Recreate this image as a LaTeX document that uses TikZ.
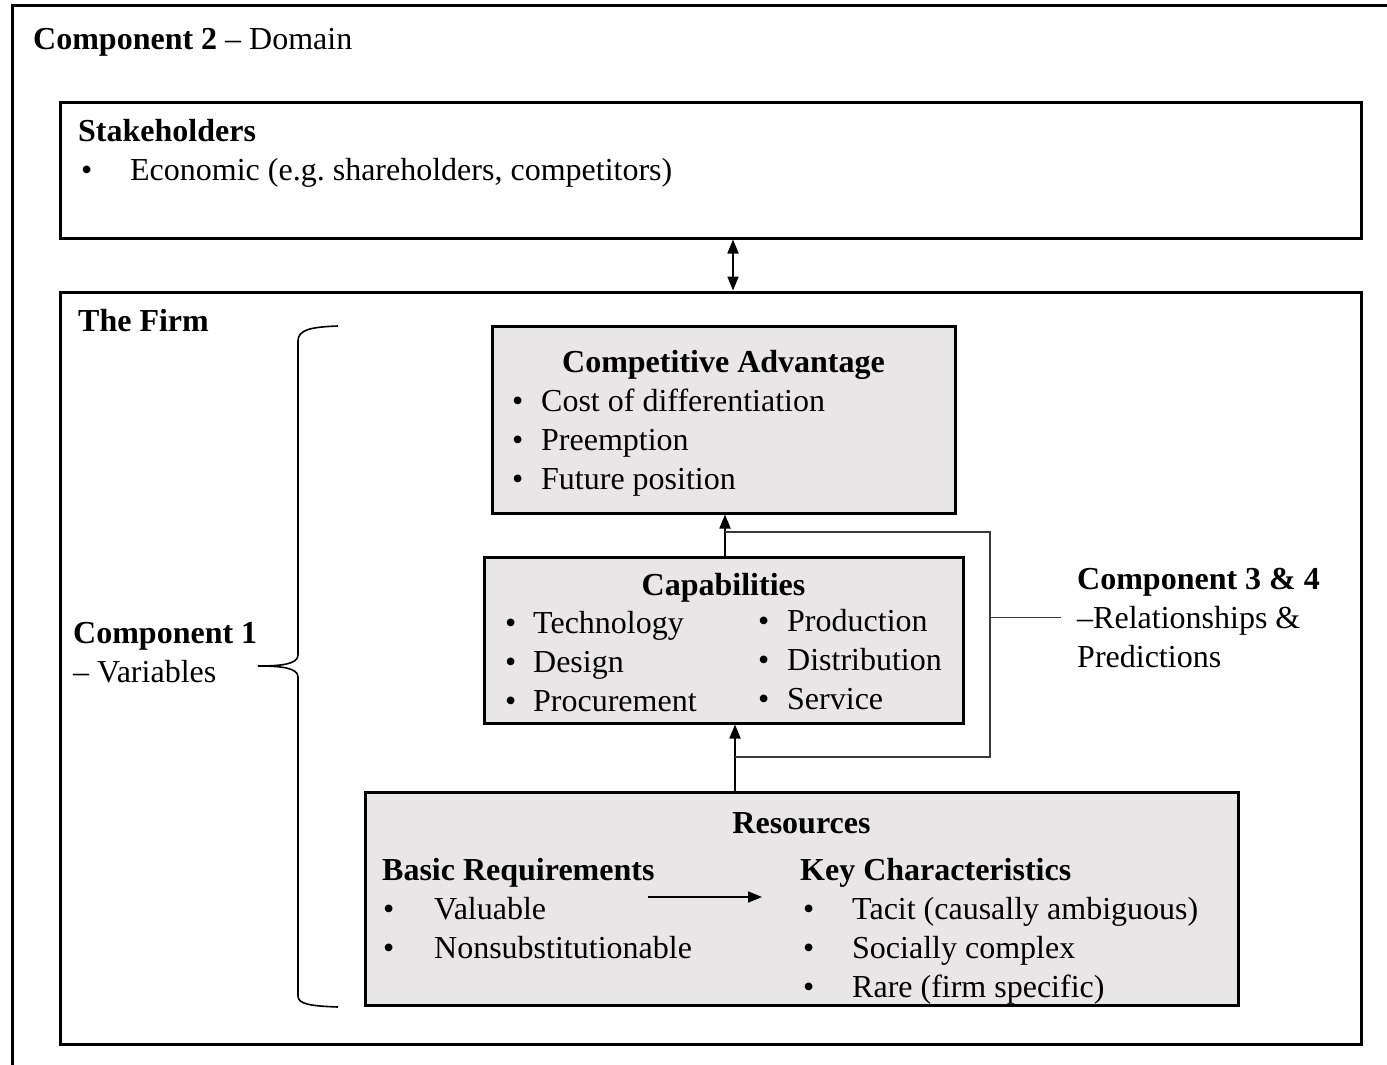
\documentclass[tikz,border=0pt]{standalone}
\usepackage{fontspec}
\setmainfont{Liberation Serif}
\usetikzlibrary{arrows.meta}

\definecolor{boxgray}{HTML}{E8E6E6}
\definecolor{loopgray}{HTML}{3A3A3A}
\newcommand{\itm}[2]{\makebox[#1pt][l]{\textbullet}#2}
\frenchspacing

\begin{document}
\begin{tikzpicture}[x=1pt,y=-1pt,>={Triangle[length=14pt,width=11pt]},
  font=\fontsize{32}{39}\selectfont,
  frame/.style={draw,line width=3pt,inner sep=0pt},
  shaded box/.style={draw,line width=3pt,fill=boxgray,inner sep=0pt},
  txt/.style={anchor=base west,inner sep=0pt,align=left},
  ctr/.style={anchor=base,inner sep=0pt},
  link/.style={line width=1.8pt},
  fb/.style={line width=1.5pt,draw=loopgray}]

  \clip (0,0) rectangle (1387,1065);

  % outer frame, cut off at the page edge
  \draw[line width=3pt] (12,6) rectangle (1400,1080);
  \node[txt] (comp2) at (33,50) {\textbf{Component 2} -- Domain};

  % stakeholders
  \node[frame, minimum width=1301pt, minimum height=136pt] (sh) at (710.5,170) {};
  \node[txt] (shtitle) at (78,141) {\textbf{Stakeholders}};
  \node[txt] (shlist) at (81,180) {\itm{49}{Economic (e.g. shareholders, competitors)}};

  % the firm (multi-line nodes sit on their last baseline)
  \node[frame, minimum width=1301pt, minimum height=752pt] (firm) at (710.5,668) {};
  \node[txt] (firmtitle) at (78,331) {\textbf{The Firm}};

  \node[shaded box, minimum width=463pt, minimum height=187pt] (ca) at (723.5,419.5) {};
  \node[ctr] (catitle) at (723.5,372) {\textbf{Competitive Advantage}};
  \node[txt] (calist) at (512,489) {\itm{29}{Cost of differentiation}\\ \itm{29}{Preemption}\\ \itm{29}{Future position}};

  \node[shaded box, minimum width=479pt, minimum height=166pt] (cap) at (723.5,640) {};
  \node[ctr] (captitle) at (723.5,595) {\textbf{Capabilities}};
  \node[txt] (capleft) at (505,711) {\itm{28}{Technology}\\ \itm{28}{Design}\\ \itm{28}{Procurement}};
  \node[txt] (capright) at (758,709) {\itm{29}{Production}\\ \itm{29}{Distribution}\\ \itm{29}{Service}};

  \node[shaded box, minimum width=873pt, minimum height=213pt] (res) at (801.5,898.5) {};
  \node[ctr] (restitle) at (801.5,833) {\textbf{Resources}};
  \node[txt] (basic) at (382,880) {\textbf{Basic Requirements}};
  \node[txt] (basiclist) at (383,958) {\itm{51}{Valuable}\\ \itm{51}{Nonsubstitutionable}};
  \node[txt] (key) at (800,880) {\textbf{Key Characteristics}};
  \node[txt] (keylist) at (803,997) {\itm{49}{Tacit (causally ambiguous)}\\ \itm{49}{Socially complex}\\ \itm{49}{Rare (firm specific)}};

  % side labels
  \node[txt] (c1) at (73,682) {\textbf{Component 1}\\ -- Variables};
  \node[txt] (c34) at (1077,667) {\textbf{Component 3 \& 4}\\ --Relationships \&\\ Predictions};

  % brace
  \draw[line width=1.6pt] (338,326) .. controls (310,327) and (298,330) .. (298,341) -- (298,655)
    .. controls (298,664) and (282,666) .. (258,666)
    .. controls (282,666) and (298,668) .. (298,677) -- (298,996)
    .. controls (298,1004) and (310,1006) .. (338,1007);

  % connectors
  \draw[link,<->] ([xshift=22.5pt]sh.south) -- ([xshift=22.5pt]firm.north);
  \draw[link,->] ([xshift=1.5pt]cap.north) -- ([xshift=1.5pt]ca.south);
  \draw[link,->] ([xshift=11.5pt]cap.south |- res.north) -- ([xshift=11.5pt]cap.south);

  \coordinate (fb1) at (725,532);
  \coordinate (fbr) at (990,757);
  \coordinate (fb2) at (735,757);
  \draw[fb] (fb1) -| (fbr) -- (fb2);
  \draw[fb] (fbr |- c34.west) -- ([xshift=-16pt]c34.west);

  \coordinate (br) at (648,897);
  \coordinate (kc) at (762,897);
  \draw[link,->] (br) -- (kc);
\end{tikzpicture}
\end{document}
